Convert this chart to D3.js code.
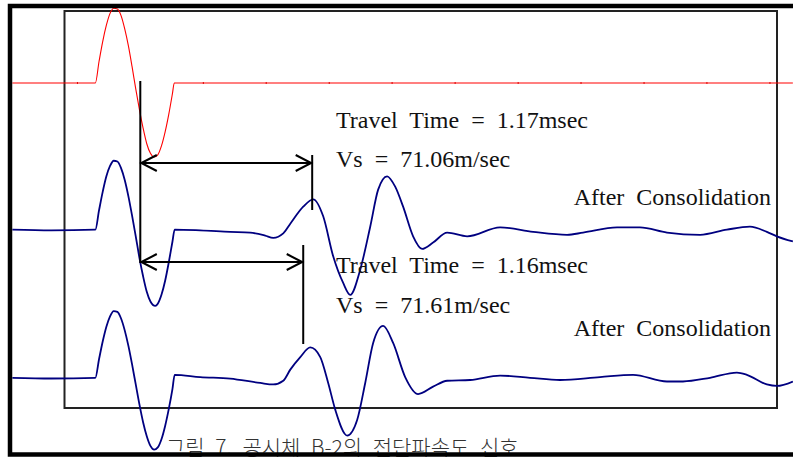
<!DOCTYPE html>
<html>
<head>
<meta charset="utf-8">
<script src="https://cdn.jsdelivr.net/npm/d3@7"></script>
<style>
  html, body { margin: 0; padding: 0; background: #fff; overflow: hidden; }
</style>
</head>
<body>
<div id="chart"></div>
<script>
// time in msec (0 = start of the source pulse), amplitude normalised to the source peak
const timeDomain = [-0.21, 4.64];
const ampDomain = [0.972, -4.388];

// source (input) signal
const sourceTime = [-0.565, -0.3, 0, 0.025, 0.05, 0.075, 0.1, 0.125, 0.15, 0.175, 0.2, 0.225, 0.25, 0.275,
    0.3, 0.325, 0.35, 0.375, 0.4, 0.425, 0.45, 0.475, 0.5, 0.525, 0.537, 1.0, 2.0, 3.0, 4.0, 4.748];
const sourceAmp = [0, 0, 0, 0.29, 0.56, 0.78, 0.94, 1.01, 1.0, 0.91, 0.73, 0.50, 0.22, -0.08,
    -0.36, -0.61, -0.82, -0.95, -1.0, -0.97, -0.85, -0.66, -0.42, -0.14, 0, 0, 0, 0, 0, 0];
const sourceMarks = [-0.122, 0.306, 0.735, 1.163, 1.592, 2.020, 2.449, 2.878, 3.306, 3.735, 4.163, 4.592];

// received signal, first record
const rec1Time = [-0.565, -0.3, 0, 0.025, 0.05, 0.075, 0.1, 0.125, 0.15, 0.175, 0.2, 0.225, 0.25, 0.275,
    0.3, 0.325, 0.35, 0.375, 0.408, 0.425, 0.45, 0.475, 0.5, 0.525, 0.54, 0.714, 0.918, 1.054, 1.156, 1.211,
    1.279, 1.327, 1.415, 1.483, 1.551, 1.619, 1.687, 1.735, 1.803, 1.871, 1.925, 1.986, 2.041, 2.095,
    2.163, 2.224, 2.299, 2.395, 2.531, 2.755, 2.98, 3.211, 3.32, 3.551, 3.707, 3.891, 4.116, 4.299,
    4.456, 4.571, 4.639, 4.748];
const rec1Amp = [0.02, 0.01, 0.02, 0.28, 0.53, 0.74, 0.88, 0.95, 0.94, 0.85, 0.69, 0.47, 0.21, -0.07,
    -0.36, -0.61, -0.82, -0.95, -1.01, -0.98, -0.86, -0.67, -0.42, -0.14, 0.02, 0.01, -0.01, -0.02, -0.06, -0.09,
    -0.03, 0.10, 0.33, 0.43, 0.20, -0.34, -0.70, -0.86, -0.52, 0.06, 0.56, 0.74, 0.60, 0.33,
    -0.07, -0.24, -0.155, -0.02, -0.07, 0.05, -0.01, -0.05, -0.02, 0.05, 0.05, -0.02, -0.05, 0.02,
    0.06, -0.01, -0.07, -0.14];

// received signal, second record
const rec2Time = [-0.565, -0.3, 0, 0.025, 0.05, 0.075, 0.1, 0.125, 0.15, 0.175, 0.2, 0.225, 0.25, 0.275,
    0.3, 0.325, 0.35, 0.375, 0.4, 0.425, 0.45, 0.475, 0.5, 0.525, 0.54, 0.714, 0.918, 1.122, 1.211, 1.279,
    1.327, 1.395, 1.463, 1.531, 1.585, 1.633, 1.714, 1.782, 1.837, 1.891, 1.959, 2.027, 2.109, 2.197,
    2.299, 2.395, 2.551, 2.755, 2.959, 3.163, 3.435, 3.66, 3.891, 4.0, 4.184, 4.367, 4.435, 4.571,
    4.639, 4.748];
const rec2Amp = [0.02, 0.01, 0.02, 0.27, 0.51, 0.71, 0.85, 0.92, 0.91, 0.82, 0.66, 0.45, 0.20, -0.07,
    -0.34, -0.58, -0.77, -0.90, -0.95, -0.92, -0.81, -0.63, -0.40, -0.13, 0.06, 0.03, 0.01, -0.05, -0.07, -0.02,
    0.13, 0.30, 0.43, 0.30, -0.05, -0.41, -0.76, -0.55, -0.05, 0.49, 0.72, 0.49, 0.03, -0.20,
    -0.10, -0.02, -0.01, 0.05, 0.02, -0.01, 0.03, 0.06, -0.03, -0.03, 0.02, 0.09, 0.06, -0.07,
    -0.09, -0.03];

// picked travel times
const departTime = 0.306;
const arrivalTimes = [1.476, 1.415];
const travelLabels = ["Travel Time = 1.17msec", "Travel Time = 1.16msec"];
const velocityLabels = ["Vs = 71.06m/sec", "Vs = 71.61m/sec"];
const recordLabels = ["After Consolidation", "After Consolidation"];
const caption = "그림 7. 공시체 B-2의 전단파속도 신호";

const W = 793, H = 457;
const margin = {top: 11, right: 16, bottom: 49, left: 64.5};

const svg = d3.select("#chart")
    .append("svg")
    .attr("width", W)
    .attr("height", H)
    .style("display", "block");

const x = d3.scaleLinear()
    .domain(timeDomain)
    .range([margin.left, W - margin.right]);
const y = d3.scaleLinear()
    .domain(ampDomain)
    .range([margin.top, H - margin.bottom]);

// plot frame
svg.append("rect")
    .attr("x", margin.left)
    .attr("y", margin.top)
    .attr("width", W - margin.left - margin.right)
    .attr("height", H - margin.top - margin.bottom)
    .attr("fill", "none")
    .attr("stroke", "#222")
    .attr("stroke-width", 2);

const traces = [
    {time: sourceTime, amp: sourceAmp, offset: 0, color: "#ff0000", width: 1.1},
    {time: rec1Time, amp: rec1Amp, offset: -2, color: "#000080", width: 1.8},
    {time: rec2Time, amp: rec2Amp, offset: -4, color: "#000080", width: 1.8}
];

traces.forEach(tr => {
    const pts = tr.time.map((t, i) => [t, tr.amp[i]]);
    const line = d3.line()
        .x(d => x(d[0]))
        .y(d => y(d[1] + tr.offset))
        .curve(d3.curveMonotoneX);
    svg.append("path")
        .datum(pts)
        .attr("d", line)
        .attr("fill", "none")
        .attr("stroke", tr.color)
        .attr("stroke-width", tr.width)
        .attr("stroke-linejoin", "round");
});

// small marks on the source baseline
svg.append("g")
    .selectAll("rect")
    .data(sourceMarks)
    .enter()
    .append("rect")
    .attr("x", d => x(d) - 0.5)
    .attr("y", y(0) - 1)
    .attr("width", 1)
    .attr("height", 2)
    .attr("fill", "#dd0000");

// travel time markers
const ann = svg.append("g")
    .attr("stroke", "#000")
    .attr("stroke-width", 2)
    .attr("fill", "none");

const x0 = x(departTime);
ann.append("line")
    .attr("x1", x0).attr("x2", x0)
    .attr("y1", 81).attr("y2", 263);

const arrowY = [163, 262];
const tickY = [[155, 210], [245, 344]];
arrivalTimes.forEach((t, i) => {
    const x1 = x(t);
    const ay = arrowY[i];
    ann.append("line")
        .attr("x1", x0).attr("x2", x1)
        .attr("y1", ay).attr("y2", ay);
    ann.append("path")
        .attr("d", `M${x0 + 16.5},${ay - 8}L${x0 + 1},${ay}L${x0 + 16.5},${ay + 8}`);
    ann.append("path")
        .attr("d", `M${x1 - 16.5},${ay - 8}L${x1 - 1},${ay}L${x1 - 16.5},${ay + 8}`);
    ann.append("line")
        .attr("x1", x1).attr("x2", x1)
        .attr("y1", tickY[i][0]).attr("y2", tickY[i][1]);
});

// labels
const serif = "'Liberation Serif', 'Times New Roman', serif";
const labelRows = [
    {text: travelLabels[0], x: 336, y: 128, anchor: "start"},
    {text: velocityLabels[0], x: 336, y: 167, anchor: "start"},
    {text: recordLabels[0], x: 771, y: 205, anchor: "end"},
    {text: travelLabels[1], x: 336, y: 273, anchor: "start"},
    {text: velocityLabels[1], x: 336, y: 313, anchor: "start"},
    {text: recordLabels[1], x: 771, y: 336, anchor: "end"}
];
svg.append("g")
    .selectAll("text")
    .data(labelRows)
    .enter()
    .append("text")
    .attr("x", d => d.x)
    .attr("y", d => d.y)
    .attr("text-anchor", d => d.anchor)
    .style("font-family", serif)
    .style("font-size", "24px")
    .style("word-spacing", "6px")
    .attr("fill", "#111")
    .text(d => d.text);

svg.append("text")
    .attr("x", 166)
    .attr("y", 455)
    .style("font-family", "'Noto Sans CJK KR', sans-serif")
    .style("font-size", "21px")
    .style("font-weight", 300)
    .style("word-spacing", "6px")
    .attr("fill", "#333")
    .text(caption);

// outer border
svg.append("rect")
    .attr("x", 10)
    .attr("y", 6)
    .attr("width", 800)
    .attr("height", 448.5)
    .attr("fill", "none")
    .attr("stroke", "#000")
    .attr("stroke-width", 4.5);
</script>
</body>
</html>
